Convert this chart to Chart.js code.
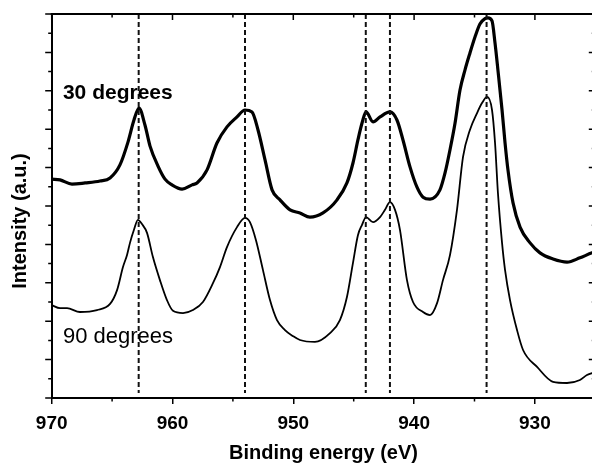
<!DOCTYPE html>
<html>
<head>
<meta charset="utf-8">
<script src="https://cdn.jsdelivr.net/npm/chart.js@4.4.1/dist/chart.umd.min.js"></script>
<style>
  html, body { margin: 0; padding: 0; background: #fff; overflow: hidden; }
  canvas { display: block; }
</style>
</head>
<body>
<canvas id="c" width="600" height="467"></canvas>
<script>
// ---- data (binding energy in eV, intensity in arbitrary units) ----
const energy30 = [970.0, 969.31, 968.32, 967.24, 966.0, 965.17, 964.35, 963.68, 963.19, 962.77, 962.28, 961.86, 961.2, 960.62, 960.04, 959.21, 958.38, 957.97, 957.14, 956.32, 955.49, 954.66, 954.0, 953.42, 952.92, 952.34, 951.76, 951.1, 950.27, 949.45, 948.62, 947.54, 946.38, 945.56, 945.06, 944.65, 944.31, 943.98, 943.4, 942.82, 942.0, 941.42, 940.92, 940.34, 939.76, 939.26, 938.68, 937.86, 937.44, 937.03, 936.61, 936.2, 935.79, 935.38, 934.96, 934.55, 934.13, 933.88, 933.55, 933.3, 933.06, 932.72, 932.47, 932.23, 931.81, 931.23, 930.4, 929.58, 928.5, 927.34, 926.27, 925.27, 925.0];
const intensity30 = [5.70, 5.68, 5.57, 5.60, 5.65, 5.73, 6.07, 6.67, 7.24, 7.55, 7.11, 6.56, 6.04, 5.70, 5.55, 5.44, 5.55, 5.60, 5.94, 6.64, 7.06, 7.32, 7.50, 7.45, 6.98, 6.20, 5.42, 5.16, 4.90, 4.82, 4.71, 4.82, 5.16, 5.60, 6.12, 6.72, 7.16, 7.45, 7.19, 7.32, 7.45, 7.24, 6.72, 6.02, 5.49, 5.23, 5.18, 5.42, 5.86, 6.46, 7.16, 8.02, 8.54, 8.98, 9.40, 9.74, 9.88, 9.90, 9.82, 9.24, 8.54, 7.50, 6.64, 5.94, 5.08, 4.45, 4.04, 3.78, 3.62, 3.54, 3.65, 3.78, 3.80];

const energy90 = [970.0, 969.31, 968.73, 967.66, 966.25, 965.17, 964.59, 964.1, 963.77, 963.52, 963.19, 962.86, 962.53, 962.11, 961.62, 961.04, 960.46, 959.96, 959.13, 958.31, 957.48, 956.65, 956.07, 955.49, 954.66, 954.0, 953.59, 953.09, 952.51, 951.93, 951.35, 950.69, 950.02, 949.45, 948.21, 946.96, 946.14, 945.56, 945.06, 944.65, 944.31, 943.98, 943.4, 942.82, 942.41, 942.0, 941.58, 941.17, 940.59, 940.09, 939.26, 938.68, 938.1, 937.61, 937.03, 936.45, 935.95, 935.38, 934.79, 934.38, 933.96, 933.55, 933.3, 933.06, 932.72, 932.47, 932.06, 931.48, 930.98, 929.82, 928.5, 927.34, 926.27, 925.69, 925.27, 925.0];
const intensity90 = [2.42, 2.34, 2.34, 2.24, 2.29, 2.45, 2.81, 3.41, 3.72, 4.04, 4.38, 4.64, 4.53, 4.30, 3.67, 3.07, 2.55, 2.27, 2.21, 2.29, 2.50, 2.99, 3.41, 3.93, 4.45, 4.69, 4.58, 4.11, 3.33, 2.55, 2.03, 1.77, 1.61, 1.51, 1.46, 1.69, 2.03, 2.63, 3.52, 4.24, 4.51, 4.71, 4.58, 4.71, 4.90, 5.10, 4.90, 4.38, 3.07, 2.50, 2.24, 2.16, 2.47, 3.07, 3.72, 4.90, 6.28, 6.98, 7.42, 7.68, 7.84, 7.50, 6.64, 5.34, 4.04, 3.33, 2.55, 1.77, 1.25, 0.81, 0.42, 0.39, 0.47, 0.60, 0.65, 0.68];

const peakEnergies = [962.8, 954.0, 944.0, 942.0, 934.0];
const peakLineTop = 10;
const peakLineBottom = 0.13;

const xTickValues = [970, 960, 950, 940, 930];
const xMin = 925, xMax = 970;
const yMin = 0, yMax = 10;

const seriesLabels = ['30 degrees', '90 degrees'];
const seriesLabelPos = [{x: 969.07, y: 7.79}, {x: 969.07, y: 1.43}];

const xTitle = 'Binding energy (eV)';
const yTitle = 'Intensity (a.u.)';

// ---- build datasets ----
const FONT = '"Liberation Sans", Arial, Helvetica, sans-serif';
const toPts = (xs, ys) => xs.map((x, i) => ({x, y: ys[i]}));

const datasets = [];
peakEnergies.forEach(p => {
  datasets.push({
    data: [{x: p, y: peakLineTop}, {x: p, y: peakLineBottom}],
    borderColor: '#111', borderWidth: 2, borderDash: [5, 3],
    pointRadius: 0, fill: false, tension: 0
  });
});
datasets.push({
  label: seriesLabels[0], data: toPts(energy30, intensity30),
  borderColor: '#000', borderWidth: 3.2, pointRadius: 0, fill: false,
  tension: 0.3, cubicInterpolationMode: 'monotone', borderJoinStyle: 'round'
});
datasets.push({
  label: seriesLabels[1], data: toPts(energy90, intensity90),
  borderColor: '#000', borderWidth: 1.8, pointRadius: 0, fill: false,
  tension: 0.3, cubicInterpolationMode: 'monotone', borderJoinStyle: 'round'
});

const framePlugin = {
  id: 'frame',
  afterDraw(chart) {
    const {ctx, chartArea: a, scales: {x, y}} = chart;
    ctx.save();
    ctx.strokeStyle = '#000';
    // top and right frame lines
    ctx.lineWidth = 2;
    ctx.beginPath();
    ctx.moveTo(a.left - 1, a.top); ctx.lineTo(a.right, a.top);
    ctx.moveTo(a.right, a.top); ctx.lineTo(a.right, a.bottom);
    ctx.stroke();
    ctx.lineWidth = 1.5;
    ctx.beginPath();
    // x ticks
    for (let v = xMin; v <= xMax; v += 5) {
      const px = x.getPixelForValue(v);
      const major = v % 10 === 0;
      const len = major ? 6 : 3.5;
      if (!major) { ctx.moveTo(px, a.bottom); ctx.lineTo(px, a.bottom + len); }
      ctx.moveTo(px, a.top); ctx.lineTo(px, a.top + len);
    }
    // y ticks
    for (let v = yMin; v <= yMax + 1e-9; v += 0.5) {
      const py = y.getPixelForValue(v);
      const major = Math.abs(v - Math.round(v)) < 1e-9;
      const len = major ? 6.5 : 3.5;
      ctx.moveTo(a.left, py); ctx.lineTo(a.left - len, py);
      ctx.moveTo(a.right, py); ctx.lineTo(a.right - len, py);
    }
    ctx.stroke();
    // series labels
    ctx.fillStyle = '#000';
    ctx.textAlign = 'left';
    ctx.textBaseline = 'alphabetic';
    ctx.font = 'bold 21px ' + FONT;
    ctx.fillText(seriesLabels[0], x.getPixelForValue(seriesLabelPos[0].x), y.getPixelForValue(seriesLabelPos[0].y));
    ctx.font = '22px ' + FONT;
    ctx.fillText(seriesLabels[1], x.getPixelForValue(seriesLabelPos[1].x), y.getPixelForValue(seriesLabelPos[1].y));
    // y title
    ctx.font = 'bold 20px ' + FONT;
    ctx.translate(20.5, (a.top + a.bottom) / 2 + 15);
    ctx.rotate(-Math.PI / 2);
    ctx.textAlign = 'center';
    ctx.textBaseline = 'middle';
    ctx.fillText(yTitle, 0, 0);
    ctx.restore();
  }
};

new Chart(document.getElementById('c'), {
  type: 'line',
  data: {datasets},
  options: {
    responsive: false,
    animation: false,
    devicePixelRatio: 1,
    layout: {padding: {top: 14, right: 4.7, left: 0, bottom: 0}},
    plugins: {legend: {display: false}, tooltip: {enabled: false}},
    scales: {
      x: {
        type: 'linear', reverse: true, min: xMin, max: xMax,
        afterFit(s) { s.height = 69; },
        afterBuildTicks(s) { s.ticks = xTickValues.map(v => ({value: v})); },
        ticks: {
          autoSkip: false, maxRotation: 0, color: '#000', padding: 8,
          font: {family: FONT, size: 19, weight: 'bold'},
          callback: v => String(v)
        },
        grid: {display: true, drawOnChartArea: false, drawTicks: true, tickLength: 6, color: '#000', lineWidth: 1.5},
        border: {display: true, color: '#000', width: 2},
        title: {display: true, text: xTitle, color: '#000', padding: {top: 0, bottom: 2},
          font: {family: FONT, size: 20, weight: 'bold'}}
      },
      y: {
        type: 'linear', min: yMin, max: yMax,
        afterFit(s) { s.width = 51.7; },
        ticks: {display: false},
        grid: {display: false},
        border: {display: true, color: '#000', width: 2}
      }
    }
  },
  plugins: [framePlugin]
});
</script>
</body>
</html>
